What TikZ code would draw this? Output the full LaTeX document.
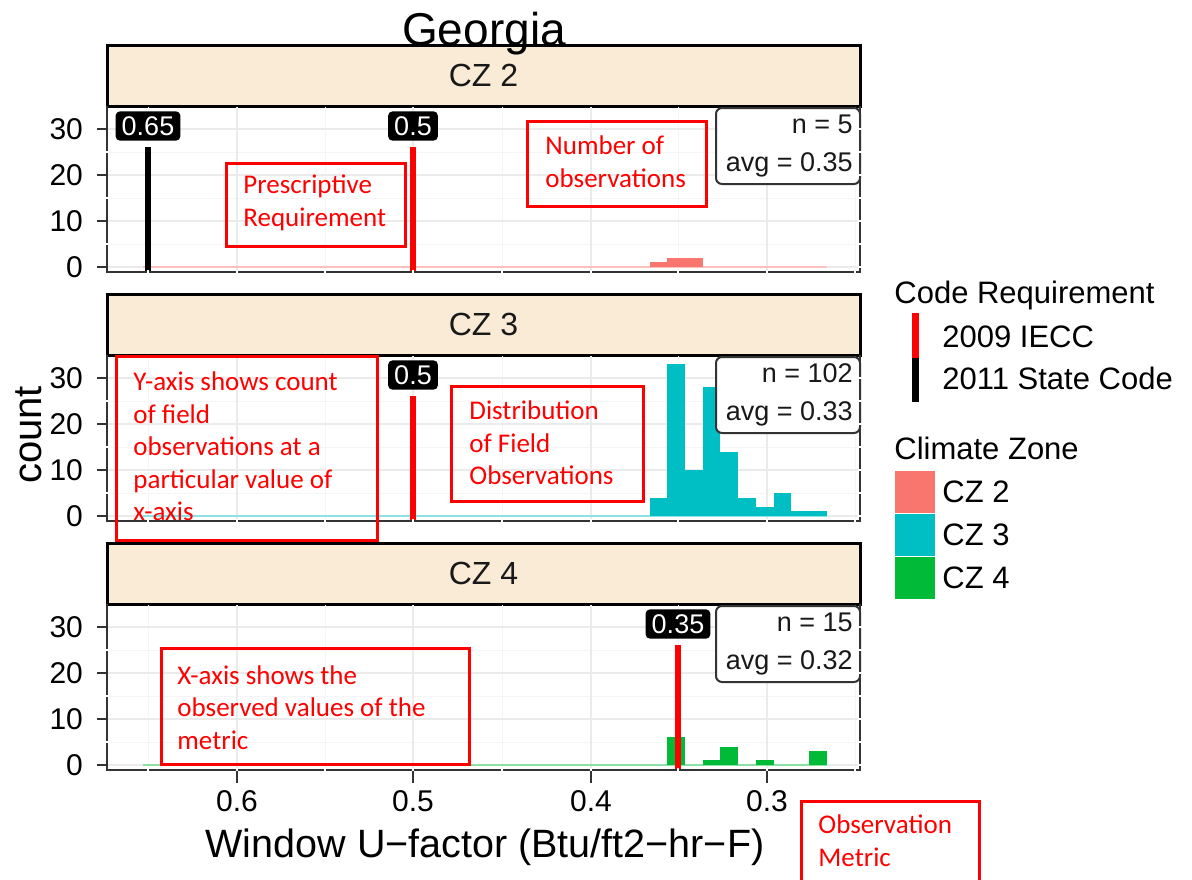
\documentclass[tikz,border=0pt]{standalone}
\usepackage{fontspec}
\setmainfont{Liberation Sans}
\newfontfamily\notefont{Carlito}
\usepackage{tikz}
\usetikzlibrary{positioning}
\definecolor{czTwo}{HTML}{F8766D}
\definecolor{czThree}{HTML}{00BFC4}
\definecolor{czFour}{HTML}{00BA38}
\definecolor{stripfill}{HTML}{FAEBD7}
\definecolor{gridmajor}{HTML}{EBEBEB}
\definecolor{gridminor}{HTML}{F5F5F5}
\definecolor{axisgray}{HTML}{333333}

\begin{document}
\begin{tikzpicture}[x=0.5pt, y=-0.5pt,
    striplabel/.style={font=\fontsize{16}{19}\selectfont, text=black!90},
    ticklabel/.style={font=\fontsize{15}{18}\selectfont, text=black},
    codetag/.style={fill=black, text=white, rounded corners=2pt, inner xsep=3pt, inner ysep=2.5pt, font=\fontsize{13.5}{16}\selectfont},
    statbox/.style={draw=axisgray, line width=1pt, fill=white, rounded corners=3pt},
    stattext/.style={font=\fontsize{13.5}{19}\selectfont, align=right, text=black!90, inner sep=0pt},
    notebox/.style={draw=red, line width=1.5pt},
    notetext/.style={text=red, align=left, inner sep=0pt, anchor=west, font=\notefont\fontsize{13.5}{16.3}\selectfont},
    legtext/.style={font=\fontsize{15.5}{18}\selectfont, anchor=west, inner sep=0pt}]
    \useasboundingbox (0,0) rectangle (1192,879);

    % facet panels
    \foreach \T/\Zone/\Colo in {45/2/czTwo, 294/3/czThree, 543/4/czFour} {
      \fill[stripfill] (107,\T) rectangle (860,{\T+61});
      \draw[black, line width=1.5pt] (107,\T) rectangle (860,{\T+61});
      \node[striplabel] (strip\Zone) at (483.5,{\T+30.5}) {CZ \Zone};
      \foreach \C in {5,15,25}
        \draw[gridminor, line width=0.5pt] (107,{\T+222-4.6*\C}) -- (860,{\T+222-4.6*\C});
      \foreach \X in {148,325,502,678,855}
        \draw[gridminor, line width=0.5pt] (\X,{\T+62}) -- (\X,{\T+227});
      \foreach \C in {0,10,20,30}
        \draw[gridmajor, line width=1pt] (107,{\T+222-4.6*\C}) -- (860,{\T+222-4.6*\C});
      \foreach \X in {237,413,591,767}
        \draw[gridmajor, line width=1pt] (\X,{\T+62}) -- (\X,{\T+227});
      \draw[\Colo!45, line width=0.75pt] (143,{\T+222}) -- (827,{\T+222});
    }

    % histograms
    \foreach \Bin/\Cnt in {0/1, 1/2, 2/2}
      \fill[czTwo] ({649.8+17.67*\Bin},267) rectangle ({649.8+17.67*(\Bin+1)},{267-4.6*\Cnt});
    \foreach \Bin/\Cnt in {0/4, 1/33, 2/10, 3/28, 4/14, 5/4, 6/2, 7/5, 8/1, 9/1}
      \fill[czThree] ({649.8+17.67*\Bin},516) rectangle ({649.8+17.67*(\Bin+1)},{516-4.6*\Cnt});
    \foreach \Bin/\Cnt in {1/6, 3/1, 4/4, 6/1, 9/3}
      \fill[czFour] ({649.8+17.67*\Bin},765) rectangle ({649.8+17.67*(\Bin+1)},{765-4.6*\Cnt});

    % code requirement lines
    \foreach \X/\T/\Colo/\Val/\Name in {148/45/black/0.65/stateTwo, 413/45/red/0.5/ieccTwo,
                                       413/294/red/0.5/ieccThree, 678/543/red/0.35/ieccFour} {
      \draw[\Colo, line width=2.8pt] (\X,{\T+102}) -- (\X,{\T+227});
      \node[codetag] (\Name) at (\X,{\T+81}) {\Val};
    }

    % counts and averages
    \foreach \T/\Zone/\N/\Avg in {45/2/5/0.35, 294/3/102/0.33, 543/4/15/0.32} {
      \draw[statbox] (716,{\T+63}) rectangle (860,{\T+139});
      \node[stattext, anchor=east] (stat\Zone) at (853,{\T+101}) {n = \N\\avg = \Avg};
    }

    % panel borders and y axes
    \foreach \T/\Zone in {45/2, 294/3, 543/4} {
      \draw[axisgray, line width=1pt] (107,{\T+61}) -- (107,{\T+227}) -- (860,{\T+227}) -- (860,{\T+61});
      \foreach \C in {5,15,25}
        \draw[white, line width=0.8pt] (105,{\T+222-4.6*\C}) -- (109,{\T+222-4.6*\C});
      \foreach \C in {0,5,10,15,20,25,30}
        \draw[white, line width=0.8pt] (858,{\T+222-4.6*\C}) -- (862,{\T+222-4.6*\C});
      \foreach \X in {148,237,325,413,502,591,678,767,855}
        \draw[white, line width=0.8pt] (\X,{\T+225}) -- (\X,{\T+229});
      \foreach \C in {0,10,20,30} {
        \draw[axisgray, line width=1pt] (97,{\T+222-4.6*\C}) -- (108,{\T+222-4.6*\C});
        \node[ticklabel, anchor=east] (yl\Zone\C) at (90,{\T+222-4.6*\C}) {\C};
      }
    }

    % x axis
    \foreach \V/\X in {0.6/237, 0.5/413, 0.4/591, 0.3/767} {
      \draw[axisgray, line width=1pt] (\X,771) -- (\X,783);
      \node[ticklabel] (xl\X) at (\X,801) {\V};
    }
    \node[font=\fontsize{19.75}{23}\selectfont] (xtitle) at (485,847) {Window U−factor (Btu/ft2−hr−F)};
    \node[font=\fontsize{20}{24}\selectfont, rotate=90] (ytitle) at (29,435) {count};
    \node[font=\fontsize{23}{27}\selectfont, anchor=base] (title) at (484,45) {Georgia};

    % legend
    \node[legtext] (codehead) at (894,295) {Code Requirement};
    \draw[red, line width=3.5pt] (915,313) -- (915,358);
    \draw[black, line width=3.5pt] (915,358) -- (915,402);
    \node[legtext] (iecc) at (942,337) {2009 IECC};
    \node[legtext] (state) at (942,378) {2011 State Code};
    \node[legtext] (zonehead) at (894,448) {Climate Zone};
    \foreach \Top/\Zone/\Colo in {471/2/czTwo, 514/3/czThree, 557/4/czFour} {
      \fill[\Colo] (895,\Top) rectangle (935,{\Top+42});
      \node[legtext] (key\Zone) at (942,{\Top+21}) {CZ \Zone};
    }

    % red notes
    \draw[notebox] (226,163) rectangle (405,246);
    \node[notetext] (prescnote) at (243,203) {Prescriptive\\Requirement};
    \draw[notebox] (527,121) rectangle (706,206);
    \node[notetext] (countnote) at (545,161.5) {Number of\\observations};
    \draw[notebox] (116,356) rectangle (377,540);
    \node[notetext] (ynote) at (133,446.5) {Y-axis shows count\\of field\\observations at a\\particular value of\\x-axis};
    \draw[notebox] (451,386) rectangle (643,501);
    \node[notetext] (distnote) at (469,443) {Distribution\\of Field\\Observations};
    \draw[notebox] (161,648) rectangle (469,764);
    \node[notetext] (xnote) at (177,707.5) {X-axis shows the\\observed values of the\\metric};
    \draw[notebox] (801,885) -- (801,801) -- (979,801) -- (979,885);
    \node[notetext] (metricnote) at (818,841) {Observation\\Metric};
  \end{tikzpicture}
\end{document}
